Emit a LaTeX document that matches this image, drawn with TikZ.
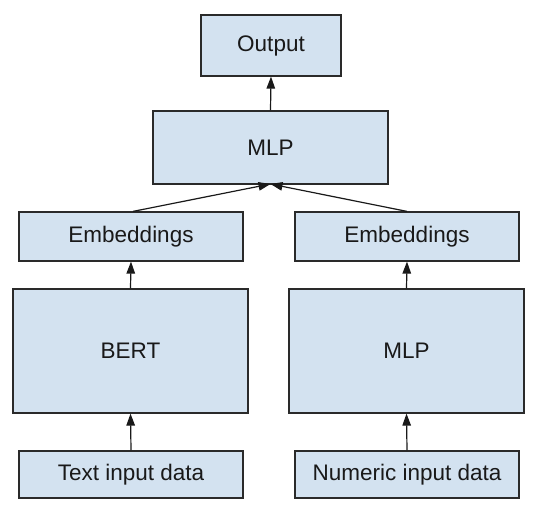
\documentclass[tikz,border=0pt]{standalone}
\usepackage{fontspec}
\setmainfont{Liberation Sans}
\usetikzlibrary{arrows.meta}
\definecolor{boxfill}{HTML}{D3E2F0}
\definecolor{boxline}{HTML}{2A2A2A}
\begin{document}
\begin{tikzpicture}[x=1pt,y=-1pt,
  blk/.style={draw=boxline,line width=1.2pt,fill=boxfill,rectangle,inner sep=0pt,
    font=\fontsize{22.5}{26}\selectfont,text=black!90},
  conn/.style={line width=1.2pt,draw=black!90,-{Triangle[length=12pt,width=8.5pt]}}]
\fill[white] (0,0) rectangle (540,522);
\useasboundingbox (0,0) rectangle (540,522);
\node[blk,minimum width=140pt,minimum height=61pt] (out) at (271,45.5) {Output};
\node[blk,minimum width=235pt,minimum height=73pt] (mlp) at (270.5,147.5) {MLP};
\node[blk,minimum width=224pt,minimum height=49pt] (embl) at (131,236.5) {Embeddings};
\node[blk,minimum width=224pt,minimum height=49pt] (embr) at (407,236.5) {Embeddings};
\node[blk,minimum width=235pt,minimum height=124pt] (bert) at (130.5,351) {BERT};
\node[blk,minimum width=235pt,minimum height=124pt] (mlpr) at (406.5,351) {MLP};
\node[blk,minimum width=224pt,minimum height=47pt] (txt) at (131,474.5) {Text input data};
\node[blk,minimum width=224pt,minimum height=47pt] (num) at (407,474.5) {Numeric input data};
\coordinate (m) at (270.5,184);
\draw[conn] (mlp.north) -- (out.south);
\draw[conn] ([xshift=2pt]embl.north) -- (m);
\draw[conn] (embr.north) -- (m);
\draw[conn] (bert.north) -- (embl.south);
\draw[conn] (mlpr.north) -- (embr.south);
\draw[conn] (txt.north) -- (bert.south);
\draw[conn] (num.north) -- (mlpr.south);
\end{tikzpicture}
\end{document}
